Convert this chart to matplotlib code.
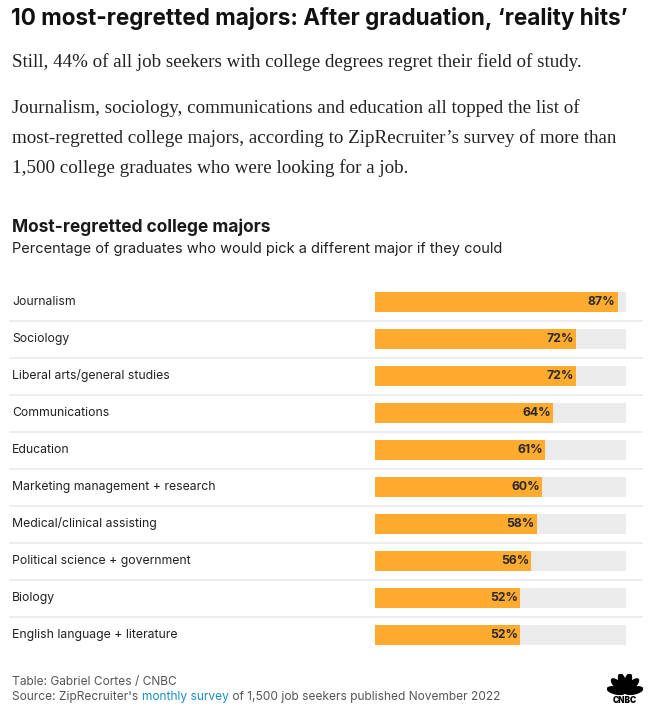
import math
import matplotlib.pyplot as plt
import matplotlib.transforms as mtransforms
from matplotlib.patches import Ellipse

# ---------- data ----------
majors = ["Journalism", "Sociology", "Liberal arts/general studies", "Communications",
          "Education", "Marketing management + research", "Medical/clinical assisting",
          "Political science + government", "Biology", "English language + literature"]
regret_pct = [87, 72, 72, 64, 61, 60, 58, 56, 52, 52]
scale_max = 90

W, H = 653, 717
BAR = "#FEAB2F"
TRACK = "#EBEBEB"
SANS = ["Inter", "DejaVu Sans"]
SERIF = ["Liberation Serif", "DejaVu Serif"]

fig = plt.figure(figsize=(W / 100, H / 100), dpi=100)
fig.patch.set_facecolor("white")

def fy(py):
    return 1 - py / H

def fx(px):
    return px / W

# ---------- headline + text ----------
fig.text(fx(11), fy(18), "10 most-regretted majors: After graduation, \u2018reality hits\u2019",
         family=SANS, weight="bold", fontsize=16.2, color="#111111", va="center")
fig.text(fx(12), fy(62), "Still, 44% of all job seekers with college degrees regret their field of study.",
         family=SERIF, fontsize=13.7, color="#222222", va="center")
para = ["Journalism, sociology, communications and education all topped the list of",
        "most-regretted college majors, according to ZipRecruiter\u2019s survey of more than",
        "1,500 college graduates who were looking for a job."]
for i, line in enumerate(para):
    fig.text(fx(12), fy(108 + 30 * i), line, family=SERIF, fontsize=13.7,
             color="#222222", va="center")

fig.text(fx(12), fy(227), "Most-regretted college majors", family=SANS, weight="bold",
         fontsize=12.5, color="#1a1a1a", va="center")
fig.text(fx(12), fy(249), "Percentage of graduates who would pick a different major if they could",
         family=SANS, fontsize=10.5, color="#222222", va="center")

# ---------- bars ----------
row_h = 37
top, n = 283.5, len(majors)
ax = fig.add_axes([fx(375), fy(top + n * row_h), fx(626) - fx(375), n * row_h / H])
ax.set_xlim(0, scale_max)
ax.set_ylim(n - 0.5, -0.5)
ax.axis("off")

ypos = list(range(n))
ax.barh(ypos, [scale_max] * n, height=20 / row_h, color=TRACK, left=0)
ax.barh(ypos, regret_pct, height=20 / row_h, color=BAR)

trans = mtransforms.blended_transform_factory(fig.transFigure, ax.transData)
for i, (name, v) in enumerate(zip(majors, regret_pct)):
    ax.text(v - 0.8, i, f"{v}%", ha="right", va="center", family=SANS,
            weight="bold", fontsize=8.8, color="#2a2a2a")
    ax.text(fx(12), i, name, transform=trans, ha="left", va="center",
            family=SANS, fontsize=8.8, color="#222222")
    if i < n - 1:
        ax.plot([fx(10), fx(642)], [i + 0.5, i + 0.5], transform=trans,
                color="#EAEAEA", lw=1.2, clip_on=False)

# ---------- footer ----------
FOOT = 8.6
fig.text(fx(12), fy(682), "Table: Gabriel Cortes / CNBC", family=SANS,
         fontsize=FOOT, color="#555555", va="center")
t1 = fig.text(fx(12), fy(697), "Source: ZipRecruiter's ", family=SANS,
              fontsize=FOOT, color="#555555", va="center")
fig.canvas.draw()
r = fig.canvas.get_renderer()
bb1 = t1.get_window_extent(r)
t2 = fig.text(bb1.x1 / W, fy(697), "monthly survey", family=SANS, fontsize=FOOT,
              color="#1A8CC8", va="center")
fig.canvas.draw()
bb2 = t2.get_window_extent(r)
fig.text(bb2.x1 / W, fy(697), " of 1,500 job seekers published November 2022",
         family=SANS, fontsize=FOOT, color="#555555", va="center")

# ---------- logo ----------
lax = fig.add_axes([fx(607), fy(704), fx(36), 30 / H])
lax.set_xlim(-1, 1)
lax.set_ylim(-0.5, 1.1)
lax.axis("off")
for ang in [12, 43, 74, 106, 137, 168]:
    a = math.radians(ang)
    lax.add_patch(Ellipse((0.5 * math.cos(a), 0.55 * math.sin(a) + 0.1),
                          0.36, 1.0, angle=ang - 90, color="black"))
lax.text(0, -0.33, "CNBC", ha="center", va="center", family=SANS, weight="black",
         fontsize=6, color="black")

fig.savefig("out.png", dpi=100, facecolor="white")
